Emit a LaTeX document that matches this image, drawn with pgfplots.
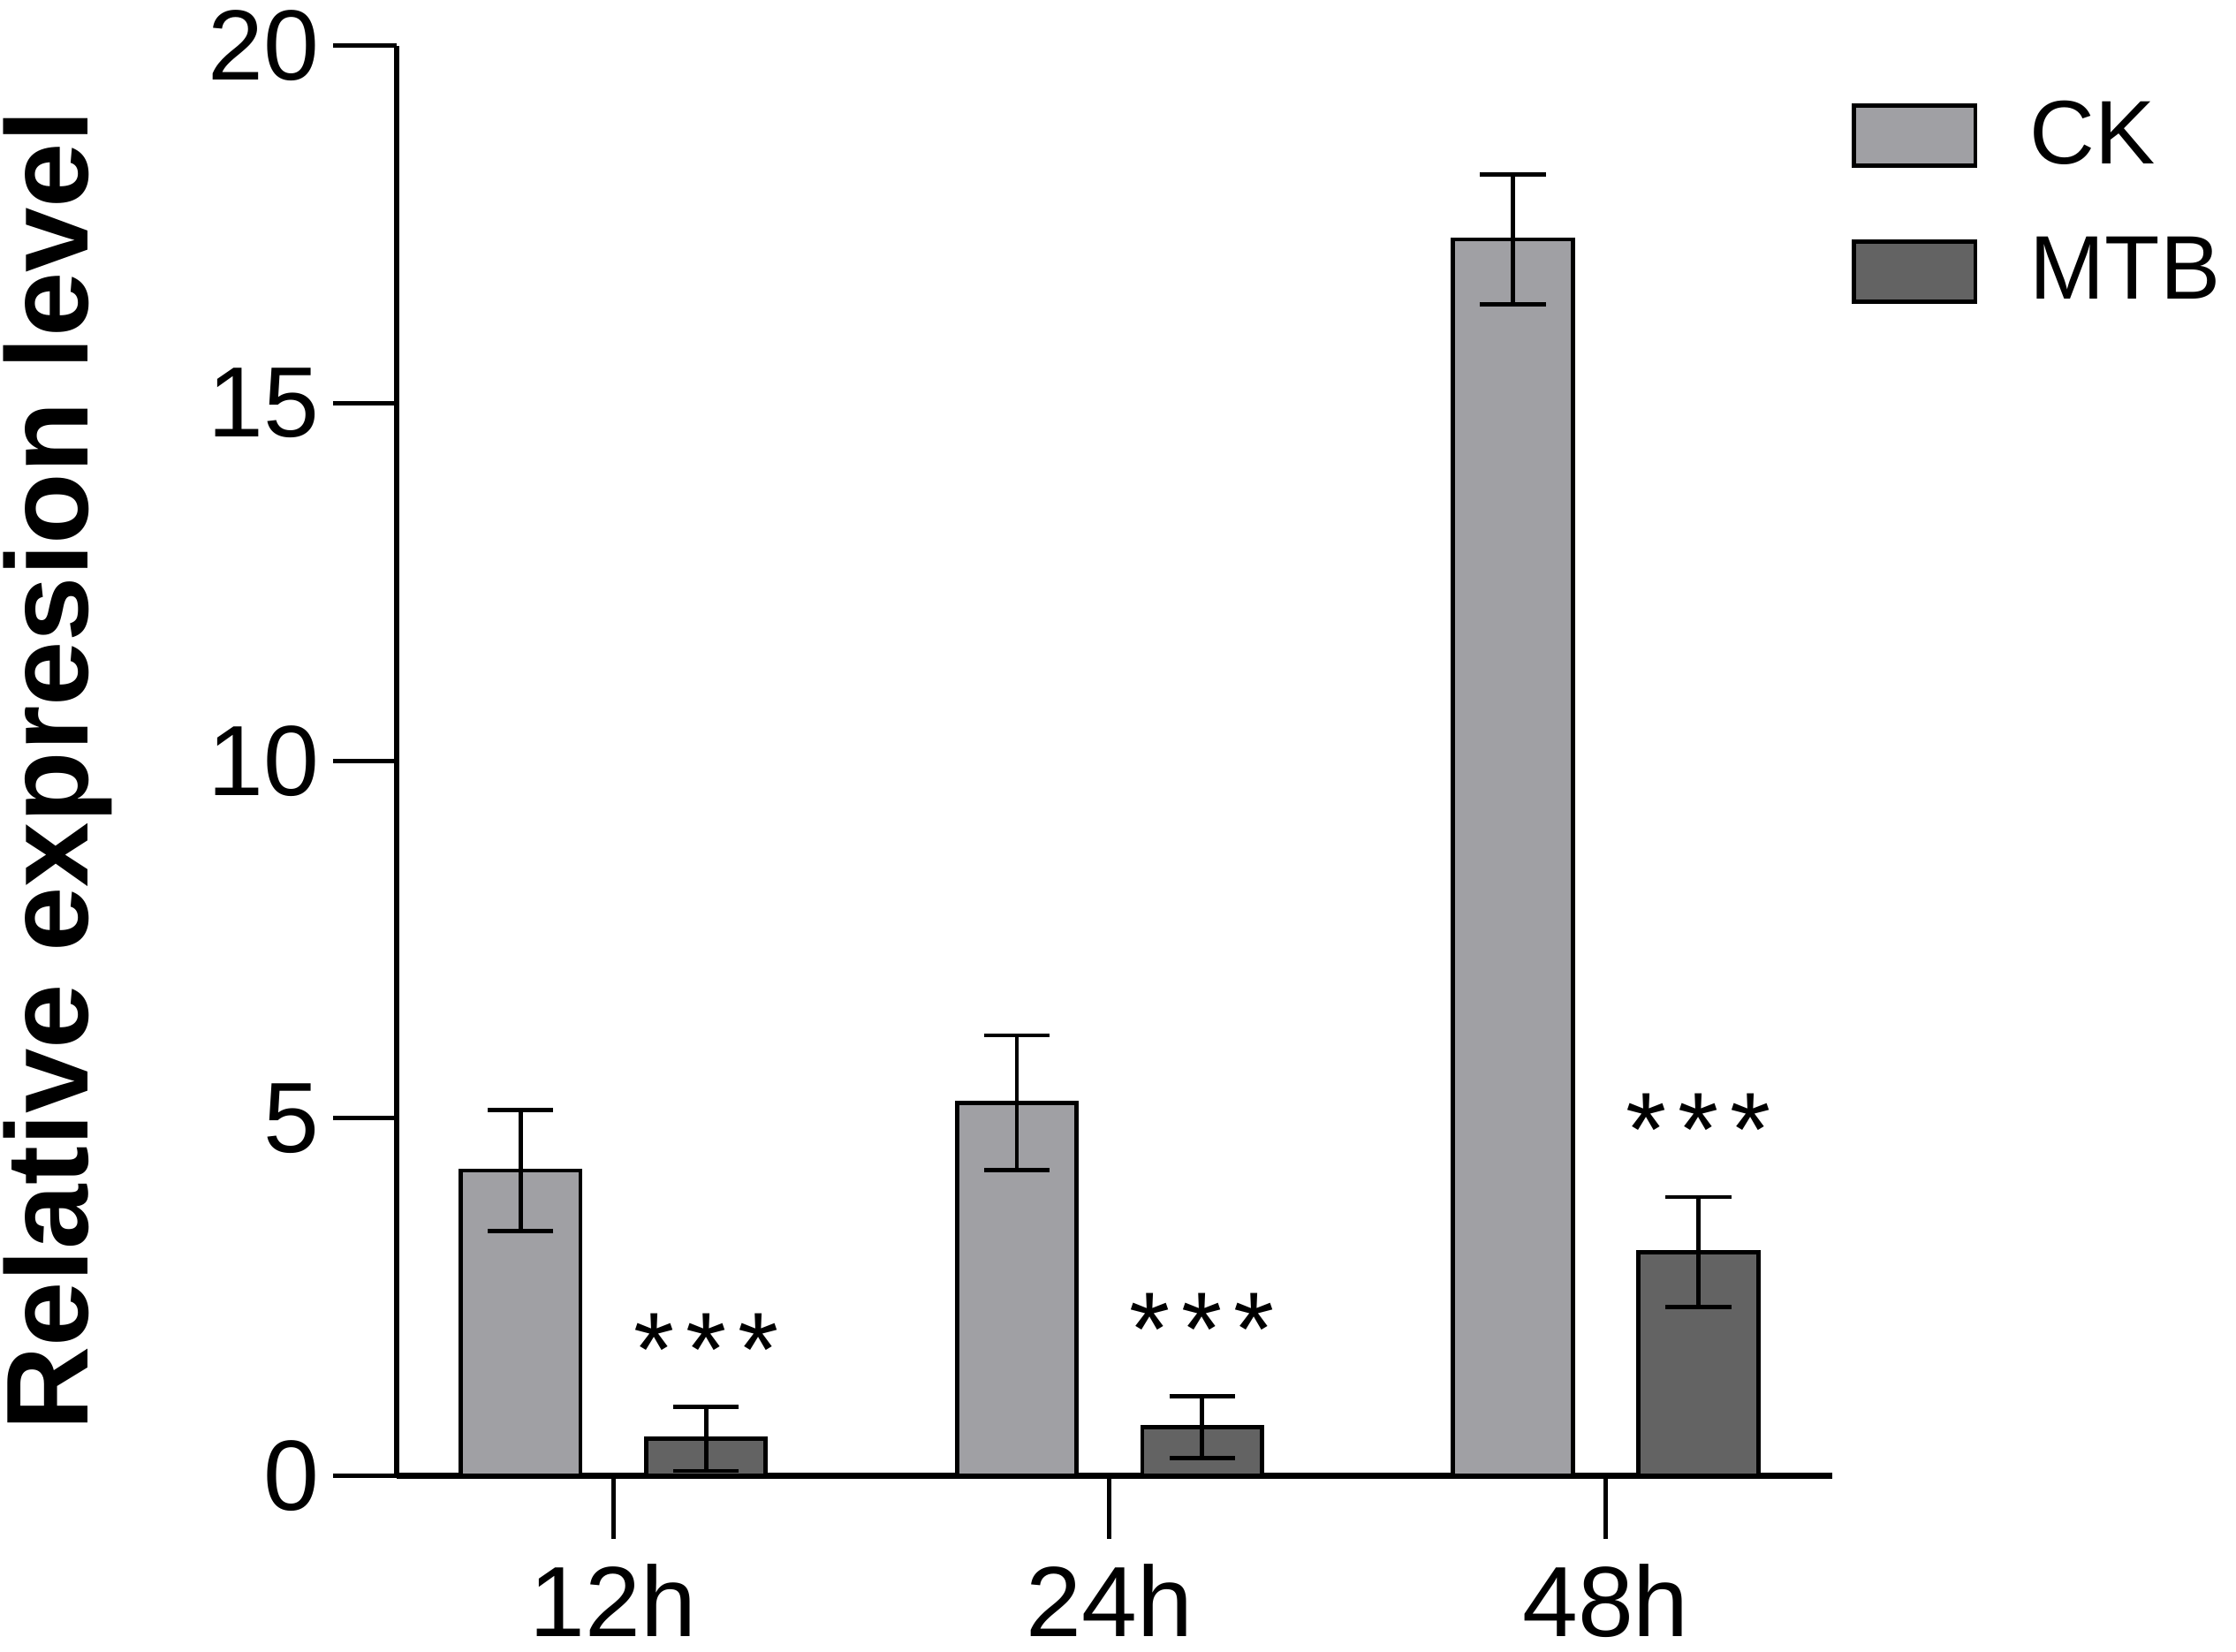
\documentclass[border=0pt]{standalone}
\usepackage{pgfplots}
\pgfplotsset{compat=1.18}
\usepackage{fontspec}
\setmainfont{Liberation Sans}
\definecolor{ckgray}{RGB}{160,160,164}
\definecolor{mtbgray}{RGB}{99,99,99}
\newcommand{\stars}{*\hspace{2.4pt}*\hspace{2.4pt}*}
\begin{document}
\begin{tikzpicture}
\begin{axis}[
  name=ax,
  scale only axis,
  width=302.1pt, height=300.9pt,
  xmin=-0.437, xmax=2.457,
  ymin=0, ymax=20,
  axis x line=bottom, axis y line=left,
  axis line style={line width=1.2pt, -},
  xtick={0,1,2},
  xticklabels={12h,24h,48h},
  ytick={0,5,10,15,20},
  tick align=outside,
  major tick length=13.3pt,
  tick style={line width=0.9pt, black},
  /pgf/number format/assume math mode=true,
  ticklabel style={font=\fontsize{21}{21}\selectfont},
  yticklabel style={inner sep=2.8pt},
  xticklabel style={inner sep=5.0pt},
  ylabel={\bfseries Relative expresion level},
  ylabel style={font=\fontsize{24.5}{24.5}\selectfont, at={(axis description cs:-0.236,0.493)}, anchor=center},
  ybar,
  bar width=25.2pt,
  clip=false,
  legend style={at={(axis description cs:1.003,0.969)}, anchor=north west, draw=none, fill=none,
    font=\fontsize{19}{19}\selectfont, row sep=14.0pt,
    nodes={inner sep=0pt},
    /tikz/every odd column/.style={column sep=11pt}},
  legend cell align=left,
  legend image code/.code={\draw[#1, line width=0.9pt] (0pt,-6.3pt) rectangle (25.5pt,6.3pt);},
  error bars/error bar style={line width=0.9pt, black},
  error bars/error mark options={rotate=90, mark size=6.9pt, line width=0.9pt, black},
]
\addplot[fill=ckgray, draw=black, line width=0.9pt, bar shift=-19.5pt,
  error bars/.cd, y dir=both, y explicit]
  coordinates {(0,4.27) +- (0,0.85) (1,5.22) +- (0,0.94) (2,17.29) +- (0,0.91)};
\addlegendentry{CK}
\addplot[fill=mtbgray, draw=black, line width=0.9pt, bar shift=19.5pt,
  error bars/.cd, y dir=both, y explicit]
  coordinates {(0,0.52) +- (0,0.45) (1,0.68) +- (0,0.43) (2,3.13) +- (0,0.77)};
\addlegendentry{MTB}
\node[anchor=base, font=\fontsize{22}{22}\selectfont] at (axis cs:0.187,1.26) {\stars};
\node[anchor=base, font=\fontsize{22}{22}\selectfont] at (axis cs:1.187,1.54) {\stars};
\node[anchor=base, font=\fontsize{22}{22}\selectfont] at (axis cs:2.187,4.34) {\stars};
\end{axis}
\pgfresetboundingbox
\path ([shift={(-83.4pt,-36.9pt)}]ax.south west) rectangle ([shift={(387pt,310.5pt)}]ax.south west);
\end{tikzpicture}
\end{document}
